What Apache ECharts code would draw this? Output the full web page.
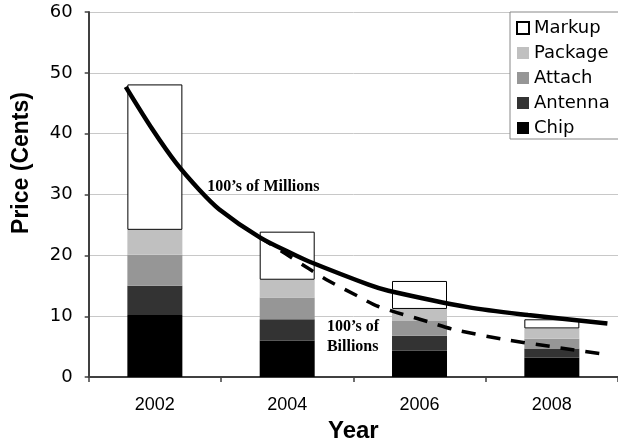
<!DOCTYPE html>
<html>
<head>
<meta charset="utf-8">
<script src="https://cdn.jsdelivr.net/npm/echarts@6/dist/echarts.min.js"></script>
<style>html,body{margin:0;padding:0;background:#fff}#c{width:618px;height:448px}</style>
</head>
<body>
<div id="c"></div>
<script>
// ---- data ----
var years = ['2002', '2004', '2006', '2008'];
var chip = [10.2, 6.0, 4.35, 3.2];
var antenna = [4.8, 3.5, 2.45, 1.5];
var attach = [5.1, 3.6, 2.4, 1.6];
var packageCost = [4.1, 2.9, 2.0, 1.7];
var markup = [23.9, 7.9, 4.6, 1.5];
var yTicks = [0, 10, 20, 30, 40, 50, 60];

// curves: [year, price]
var millionsYears = [2001.56, 2001.97, 2002.32, 2002.67, 2002.97, 2003.58, 2004.07, 2004.33, 2005.23, 2005.53, 2006.73, 2007.64, 2008.84];
var millionsPrice = [47.7, 40.6, 35.2, 30.8, 27.6, 23.0, 20.3, 19.0, 15.2, 14.2, 11.5, 10.2, 8.8];
var billionsYears = [2003.58, 2003.97, 2004.33, 2004.63, 2005.05, 2005.38, 2006.13, 2006.53, 2007.33, 2008.13, 2008.84];
var billionsPrice = [23.0, 20.3, 17.8, 15.8, 13.4, 11.6, 9.1, 7.8, 6.1, 4.8, 3.7];

function pairs(xs, ys) { return xs.map(function (x, i) { return [x, ys[i]]; }); }

var chart = echarts.init(document.getElementById('c'), null, {renderer: 'canvas'});
var axisColor = '#404040';
chart.setOption({
  animation: false,
  backgroundColor: '#fff',
  grid: {left: 88.7, right: -2.7, top: 12, bottom: 65, containLabel: false},
  legend: {
    orient: 'vertical',
    left: 510, top: 12,
    padding: [7, 10, 2, 6],
    itemGap: 7,
    itemWidth: 12, itemHeight: 12,
    backgroundColor: '#fff',
    borderColor: '#888', borderWidth: 1, borderRadius: 0,
    textStyle: {fontFamily: 'DejaVu Sans', fontSize: 18, color: '#000'},
    data: [
      {name: 'Markup', icon: 'rect'},
      {name: 'Package', icon: 'rect'},
      {name: 'Attach', icon: 'rect'},
      {name: 'Antenna', icon: 'rect'},
      {name: 'Chip', icon: 'rect'}
    ]
  },
  xAxis: [{
    type: 'category',
    data: years,
    boundaryGap: true,
    axisLine: {show: true, lineStyle: {color: axisColor, width: 2}},
    axisTick: {show: true, length: 5, interval: 0, lineStyle: {color: axisColor, width: 1.5}},
    axisLabel: {margin: 19, fontFamily: 'Liberation Sans', fontSize: 18, color: '#000'},
    name: 'Year', nameLocation: 'middle', nameGap: 38,
    nameTextStyle: {fontFamily: 'Liberation Sans', fontWeight: 'bold', fontSize: 24, color: '#000'},
    splitLine: {show: false}
  }, {
    type: 'value', min: 2001, max: 2009, show: false
  }],
  yAxis: [{
    type: 'value', min: yTicks[0], max: yTicks[yTicks.length - 1], interval: 10,
    axisLine: {show: true, lineStyle: {color: axisColor, width: 2}},
    axisTick: {show: true, length: 4, lineStyle: {color: axisColor, width: 1.5}},
    axisLabel: {margin: 16, fontFamily: 'DejaVu Sans', fontSize: 18, color: '#000'},
    splitLine: {show: true, lineStyle: {color: '#c8c8c8', width: 1}}
  }],
  graphic: [{
    type: 'text', x: 22, y: 163, rotation: Math.PI / 2,
    style: {text: 'Price (Cents)', align: 'center', verticalAlign: 'middle',
      textAlign: 'center', textVerticalAlign: 'middle',
      font: 'bold 23px "Liberation Sans"', fill: '#000'}
  }],
  series: [
    {name: 'Chip', type: 'bar', stack: 'total', barWidth: 55, data: chip, itemStyle: {color: '#000000'}},
    {name: 'Antenna', type: 'bar', stack: 'total', barWidth: 55, data: antenna, itemStyle: {color: '#333333'}},
    {name: 'Attach', type: 'bar', stack: 'total', barWidth: 55, data: attach, itemStyle: {color: '#969696'}},
    {name: 'Package', type: 'bar', stack: 'total', barWidth: 55, data: packageCost, itemStyle: {color: '#c0c0c0'}},
    {name: 'Markup', type: 'bar', stack: 'total', barWidth: 55, data: markup, itemStyle: {color: '#ffffff', borderColor: '#000', borderWidth: 1}},
    {
      name: "100's of Millions", type: 'line', xAxisIndex: 1, yAxisIndex: 0,
      data: pairs(millionsYears, millionsPrice), smooth: 0.3, symbol: 'none', z: 5,
      lineStyle: {color: '#000', width: 4.5},
      markPoint: {
        symbol: 'circle', symbolSize: 0,
        data: [{coord: [2002.79, 31.3], value: 0}],
        label: {show: true, position: 'right', distance: 0, formatter: '100\u2019s of Millions',
          fontFamily: 'Liberation Serif', fontWeight: 'bold', fontSize: 16, color: '#000'}
      }
    },
    {
      name: "100's of Billions", type: 'line', xAxisIndex: 1, yAxisIndex: 0,
      data: pairs(billionsYears, billionsPrice), smooth: 0.3, symbol: 'none', z: 5,
      lineStyle: {color: '#000', width: 3.5, type: [14, 11]},
      markPoint: {
        symbol: 'circle', symbolSize: 0,
        data: [{coord: [2004.6, 6.6], value: 0}],
        label: {show: true, position: 'right', distance: 0, formatter: '100\u2019s of\nBillions',
          lineHeight: 20, align: 'left',
          fontFamily: 'Liberation Serif', fontWeight: 'bold', fontSize: 16, color: '#000'}
      }
    }
  ]
});
</script>
</body>
</html>
